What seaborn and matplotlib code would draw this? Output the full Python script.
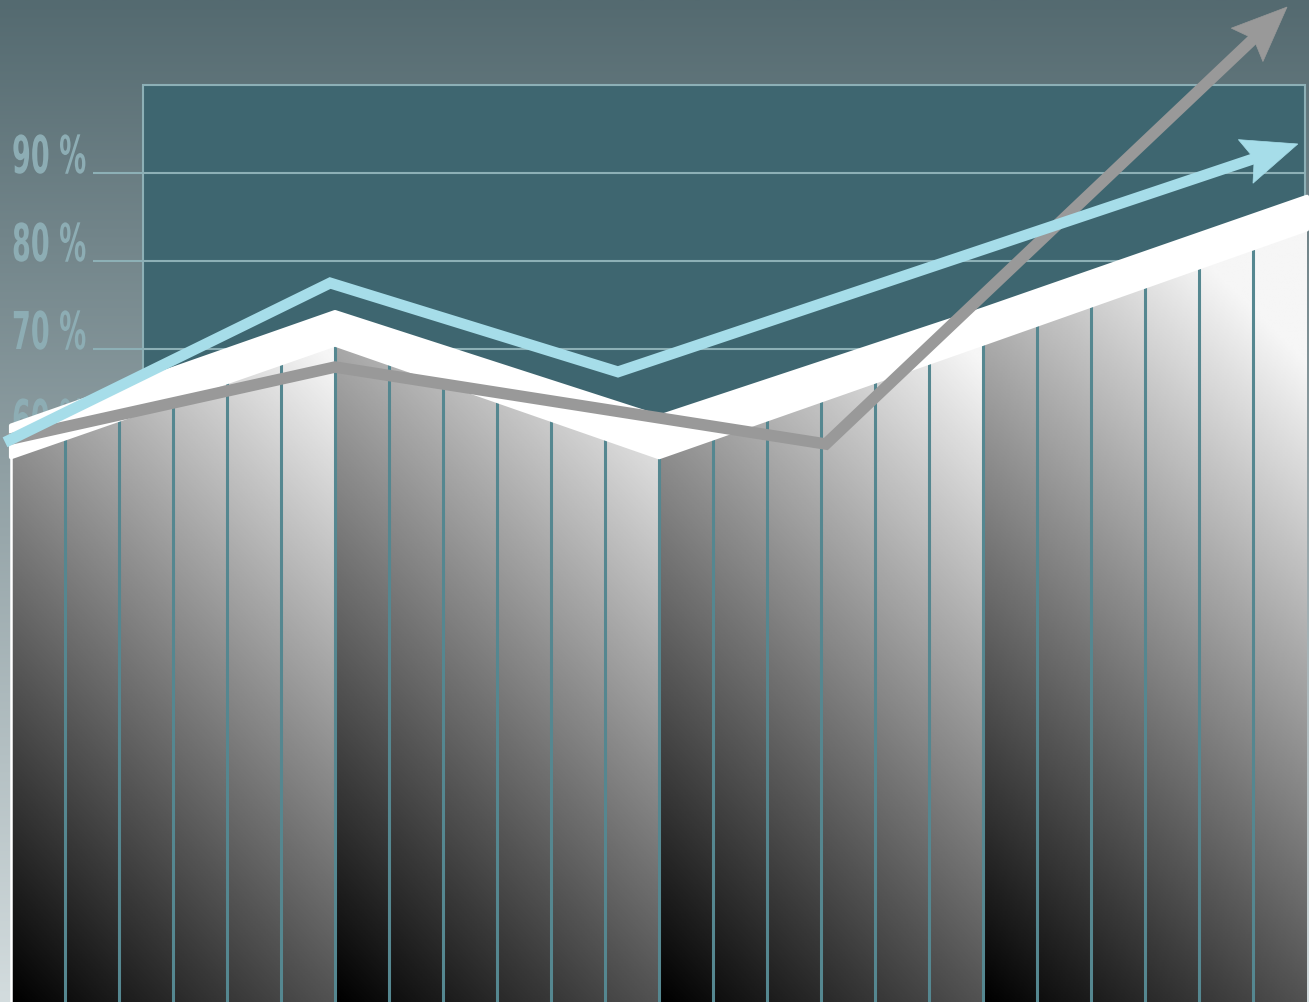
import numpy as np
import matplotlib
matplotlib.use("Agg")
import matplotlib.pyplot as plt
import seaborn as sns
from matplotlib.patches import Polygon, Rectangle
from matplotlib.colors import LinearSegmentedColormap, to_rgb
from matplotlib.patheffects import AbstractPathEffect
from matplotlib.transforms import Affine2D

# ---------------------------------------------------------------- data
# percentage scale shown on the left
pct_ticks = [60, 70, 80, 90]
pct_labels = ["60 %", "70 %", "80 %", "90 %"]

# folded "surface" of vertical stripes: break points (stripe index) and heights
period_knots = [0, 6, 12, 18, 24]
surface_top = [57.7, 70.5, 57.7, 70.6, 83.6]   # top of the striped bars
face_top = [61.3, 74.2, 62.3, 74.5, 87.3]      # top of the white upper face

# trend lines (last point is the arrow tip)
blue_x = [-0.11, 5.91, 11.24, 23.83]
blue_y = [59.4, 77.5, 67.4, 93.3]
gray_x = [-0.06, 6.00, 15.09, 23.63]
gray_y = [59.7, 67.95, 59.2, 108.86]

# ---------------------------------------------------------------- colours
BG_TOP, BG_BOTTOM = "#546a70", "#d3dcde"
PANEL = "#3e6670"
GRID = "#8db0b6"
LABEL = "#8dadb4"
SEP = "#558790"
BLUE = "#a6dde9"
GRAY = "#999999"

sns.set_theme(style="white")
plt.rcParams["font.family"] = ["DejaVu Sans"]

W, H = 1309, 1003
fig = plt.figure(figsize=(W / 100, H / 100), dpi=100)
ax = fig.add_axes([0, 0, 1, 1])

# one stripe is 54 px wide, ten percent is 88 px tall
XMIN, XMAX = -11 / 54, (W - 11) / 54
YMAX, YMIN = 90 + 174 / 8.8, 90 - (H - 174) / 8.8
ax.set_xlim(XMIN, XMAX)
ax.set_ylim(YMIN, YMAX)
ax.autoscale(False)
ax.axis("off")


def px_x(px):
    return (px - 11) / 54


class HSqueeze(AbstractPathEffect):
    """Narrow the glyphs horizontally around the text origin."""

    def __init__(self, sx):
        super().__init__()
        self._sx = sx

    def draw_path(self, renderer, gc, tpath, affine, rgbFace=None):
        x0 = affine.get_matrix()[0, 2]
        squeeze = Affine2D().translate(-x0, 0).scale(self._sx, 1).translate(x0, 0)
        renderer.draw_path(gc, tpath, affine + squeeze, rgbFace)


# ---------------------------------------------------------------- background
t = np.linspace(0, 1, 256)[:, None, None]
bg = (1 - t) * np.array(to_rgb(BG_TOP)) + t * np.array(to_rgb(BG_BOTTOM))
ax.imshow(bg, extent=[XMIN, XMAX, YMIN, YMAX], origin="upper",
          aspect="auto", zorder=0, interpolation="bilinear")

# dark plotting panel with its frame and grid
p_left, p_right = px_x(143), px_x(1305)
ax.add_patch(Rectangle((p_left, YMIN - 2), p_right - p_left, 100 - (YMIN - 2),
                       facecolor=PANEL, edgecolor=GRID, lw=1.5, zorder=1))
ax.hlines(pct_ticks, px_x(93), p_right, colors=GRID, lw=1.5, zorder=2)

for v, lab in zip(pct_ticks, pct_labels):
    ax.text(px_x(12), v, lab, ha="left", va="baseline", fontsize=37.5,
            fontweight="bold", color=LABEL, zorder=2,
            path_effects=[HSqueeze(0.52)])

# ---------------------------------------------------------------- striped bars
bar_cmap = LinearSegmentedColormap.from_list("bars", ["#000000", "#f6f6f6"])
for g0, g1, t0, t1 in zip(period_knots[:-1], period_knots[1:],
                          surface_top[:-1], surface_top[1:]):
    top = max(t0, t1) + 1
    uu = np.linspace(g0, g1, 200)
    vv = np.linspace(YMIN, top, 400)
    U, V = np.meshgrid(uu, vv)
    Z = np.clip((14.15 * (U - g0) + 2.332 * (V - YMIN)) / 255, 0, 1)
    im = ax.imshow(Z, extent=[g0, g1, YMIN, top], origin="lower", cmap=bar_cmap,
                   vmin=0, vmax=1, aspect="auto", zorder=3,
                   interpolation="bilinear")
    clip = Polygon([(g0, YMIN), (g0, t0), (g1, t1), (g1, YMIN)], closed=True,
                   transform=ax.transData, facecolor="none", edgecolor="none")
    im.set_clip_path(clip)

seps = np.arange(period_knots[0] + 1, period_knots[-1])
ax.vlines(seps, YMIN, np.interp(seps, period_knots, surface_top),
          colors=SEP, lw=2.2, zorder=4)
ax.vlines(period_knots[0], YMIN, surface_top[0], colors="white", lw=1.8, zorder=4)

# white upper face of the surface
face = list(zip(period_knots, face_top)) + list(zip(period_knots, surface_top))[::-1]
ax.add_patch(Polygon(face, closed=True, facecolor="white", edgecolor="white",
                     lw=3, joinstyle="round", zorder=5))


# ---------------------------------------------------------------- trend arrows
def arrow_head(xs, ys, length=55.0, half=23.0, shaft_end=40.0):
    T = ax.transData
    prev = T.transform((xs[-2], ys[-2]))
    tip = T.transform((xs[-1], ys[-1]))
    d = tip - prev
    d = d / np.hypot(*d)
    n = np.array([-d[1], d[0]])
    back = tip - d * length
    pts = np.array([tip, back + n * half, tip - d * 46.0, back - n * half])
    inv = T.inverted()
    head = inv.transform(pts)
    end = inv.transform(tip - d * shaft_end)
    return head, end


for xs, ys, col, lw, z in [(gray_x, gray_y, GRAY, 8.3, 6),
                           (blue_x, blue_y, BLUE, 7.9, 7)]:
    head, end = arrow_head(xs, ys)
    sx = list(xs[:-1]) + [end[0]]
    sy = list(ys[:-1]) + [end[1]]
    sns.lineplot(x=sx, y=sy, sort=False, estimator=None, color=col,
                 linewidth=lw, solid_joinstyle="miter", solid_capstyle="butt",
                 ax=ax, zorder=z, legend=False)
    ax.add_patch(Polygon(head, closed=True, facecolor=col, edgecolor=col,
                         lw=0.5, zorder=z))

ax.set_xlim(XMIN, XMAX)
ax.set_ylim(YMIN, YMAX)
ax.axis("off")
fig.savefig("out.png", dpi=100)
